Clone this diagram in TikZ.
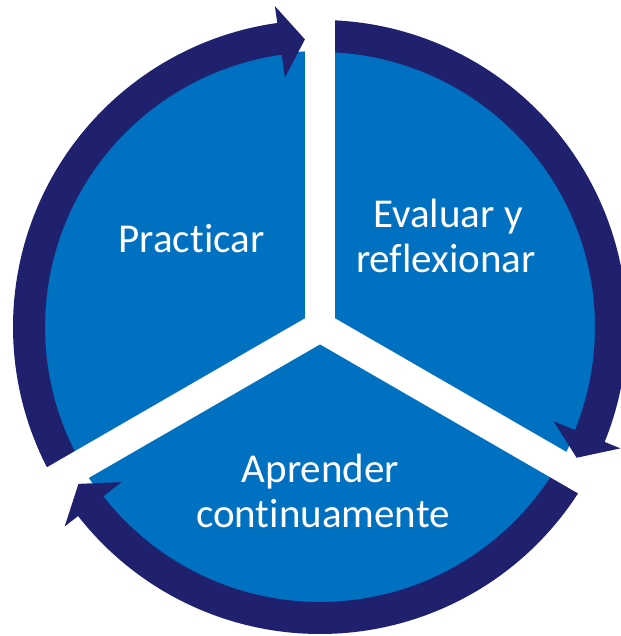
\documentclass[tikz,border=0pt]{standalone}
\usepackage{fontspec}
\setmainfont[Ligatures=NoCommon]{Carlito}
\definecolor{pieblue}{RGB}{0,112,192}
\definecolor{ringnavy}{RGB}{31,33,110}
\begin{document}
\begin{tikzpicture}[x=1pt,y=1pt,
  ringarc/.style={draw=ringnavy, line width=32pt, line cap=butt},
  gapband/.style={draw=white, line width=30pt, line cap=butt},
  headtri/.style={fill=ringnavy},
  lbl/.style={text=white, font=\fontsize{41}{45}\selectfont, anchor=base, inner sep=0pt}]
\useasboundingbox (0,0) rectangle (620,636);
\coordinate (C) at (320,309);
% pie disk
\fill[pieblue] (C) circle[radius=276pt];
% ring arcs (clockwise)
\draw[ringarc] ([shift={(210:291pt)}]C) arc[start angle=210, end angle=97, radius=291pt];
\draw[ringarc] ([shift={(90:291pt)}]C) arc[start angle=90, end angle=-23, radius=291pt];
\draw[ringarc] ([shift={(-30:291pt)}]C) arc[start angle=-30, end angle=-143, radius=291pt];
% white gap bands
\coordinate (g1) at ([shift={(90:330pt)}]C);
\coordinate (g2) at ([shift={(210:330pt)}]C);
\coordinate (g3) at ([shift={(-30:330pt)}]C);
\draw[gapband] (C) -- (g1);
\draw[gapband] (C) -- (g2);
\draw[gapband] (C) -- (g3);
\fill[white] (C) circle[radius=15pt];
% arrowheads
\fill[headtri] ([shift={(93:288pt)}]C) -- ([shift={(98:324pt)}]C) -- ([shift={(98:252pt)}]C) -- cycle;
\fill[headtri] ([shift={(-27:288pt)}]C) -- ([shift={(-22:324pt)}]C) -- ([shift={(-22:252pt)}]C) -- cycle;
\fill[headtri] ([shift={(-147:288pt)}]C) -- ([shift={(-142:324pt)}]C) -- ([shift={(-142:252pt)}]C) -- cycle;
% labels
\node[lbl] (prac) at (191.5,383) {Practicar};
\node[lbl] (eval1) at (448,408) {Evaluar y};
\node[lbl] (eval2) at (446,363) {reflexionar};
\node[lbl] (apr1) at (320.5,153) {Aprender};
\node[lbl] (apr2) at (323,108) {continuamente};
\end{tikzpicture}
\end{document}
